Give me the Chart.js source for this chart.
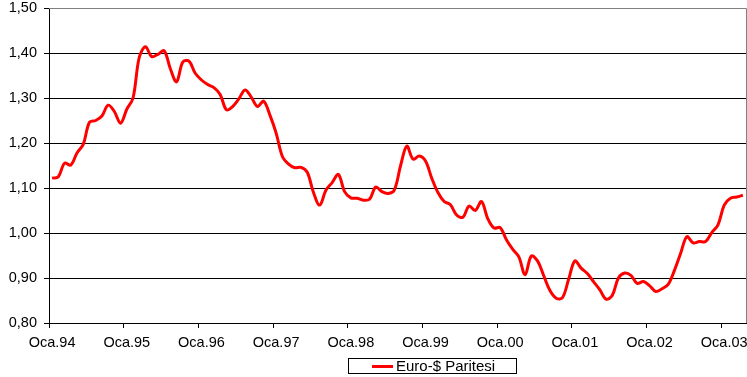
<!DOCTYPE html>
<html>
<head>
<meta charset="utf-8">
<script src="https://cdn.jsdelivr.net/npm/chart.js@4"></script>
<style>
  html, body { margin: 0; padding: 0; background: #fff; }
  #wrap { position: relative; width: 747px; height: 377px; }
  #legend {
    position: absolute; left: 348px; top: 358px; width: 167px; height: 14px;
    border: 1px solid #000; font: 15px "Liberation Sans", Arial, sans-serif;
    color: #000; line-height: 14px; white-space: nowrap;
  }
  #legend .ln { position: absolute; left: 23px; top: 6px; width: 21px; height: 3px; background: #ff0000; }
  #legend .tx { position: absolute; left: 47px; top: 0; }
</style>
</head>
<body>
<div id="wrap">
  <canvas id="c" width="747" height="377"></canvas>
  <div id="legend"><span class="ln"></span><span class="tx">Euro-$ Paritesi</span></div>
</div>
<script>
// aylik Euro-$ paritesi, Oca.94 - Nis.03
const yillar = ['94', '95', '96', '97', '98', '99', '00', '01', '02', '03'];
const parite = [
  1.122, 1.125, 1.155, 1.151, 1.178, 1.197, 1.246, 1.250, 1.260, 1.284, 1.270, 1.244,
  1.275, 1.300, 1.390, 1.414, 1.392, 1.397, 1.405, 1.365, 1.336, 1.380, 1.382, 1.355,
  1.340, 1.330, 1.323, 1.308, 1.274, 1.281, 1.298, 1.318, 1.302, 1.281, 1.293, 1.262,
  1.222, 1.170, 1.153, 1.145, 1.146, 1.135, 1.090, 1.062, 1.095, 1.112, 1.130, 1.092,
  1.078, 1.077, 1.073, 1.075, 1.102, 1.092, 1.088, 1.096, 1.150, 1.193, 1.164, 1.171,
  1.160, 1.122, 1.090, 1.070, 1.063, 1.040, 1.035, 1.060, 1.050, 1.070, 1.032, 1.011,
  1.012, 0.985, 0.964, 0.947, 0.907, 0.949, 0.938, 0.905, 0.872, 0.855, 0.856, 0.897,
  0.938, 0.922, 0.910, 0.892, 0.874, 0.853, 0.861, 0.900, 0.911, 0.906, 0.888, 0.892,
  0.883, 0.870, 0.876, 0.886, 0.917, 0.955, 0.992, 0.978, 0.981, 0.981, 1.001, 1.018,
  1.062, 1.077, 1.080, 1.084
];
const yMin = 0.8, yMax = 1.5, yAdim = 0.1;

const etiketler = parite.map((_, i) => i % 12 === 0 ? 'Oca.' + yillar[i / 12] : '');
const yazi = { family: '"Liberation Sans", Arial, sans-serif', size: 14.5 };

// plot alaninin ust ve sag kenari (gri)
const cerceve = {
  id: 'cerceve',
  afterDraw(chart) {
    const { ctx, chartArea: a } = chart;
    ctx.save();
    ctx.strokeStyle = '#808080';
    ctx.lineWidth = 1;
    ctx.beginPath();
    ctx.moveTo(a.left, a.top + 0.5);
    ctx.lineTo(a.right + 0.5, a.top + 0.5);
    ctx.lineTo(a.right + 0.5, a.bottom);
    ctx.stroke();
    ctx.restore();
  }
};

new Chart(document.getElementById('c'), {
  type: 'line',
  data: {
    labels: etiketler,
    datasets: [{
      label: 'Euro-$ Paritesi', data: parite,
      borderColor: '#ff0000', borderWidth: 3, pointRadius: 0, tension: 0.35, fill: false
    }]
  },
  options: {
    responsive: false, animation: false,
    layout: { autoPadding: false, padding: { top: 8, right: 1, bottom: 24, left: 0 } },
    plugins: { legend: { display: false }, tooltip: { enabled: false } },
    scales: {
      x: {
        type: 'category', offset: true,
        grid: {
          offset: true, drawOnChartArea: false, tickLength: 5,
          tickColor: c => c.index % 12 === 0 ? '#000' : 'rgba(0,0,0,0)'
        },
        border: { color: '#000' },
        ticks: { autoSkip: false, maxRotation: 0, padding: 6, color: '#000', font: yazi,
          callback: (v, i) => etiketler[i] },
        afterFit: s => { s.height = 30; s.paddingLeft = 0; s.paddingRight = 0; }
      },
      y: {
        min: yMin, max: yMax,
        ticks: { stepSize: yAdim, padding: 7, color: '#000', font: yazi,
          callback: v => v.toFixed(2).replace('.', ',') },
        grid: { color: c => c.tick && c.tick.value > 1.49 ? '#808080' : '#000', tickColor: '#000', tickLength: 5 },
        border: { color: '#000' },
        afterFit: s => { s.width = 49; s.paddingTop = 0; s.paddingBottom = 0; }
      }
    }
  },
  plugins: [cerceve]
});
</script>
</body>
</html>
